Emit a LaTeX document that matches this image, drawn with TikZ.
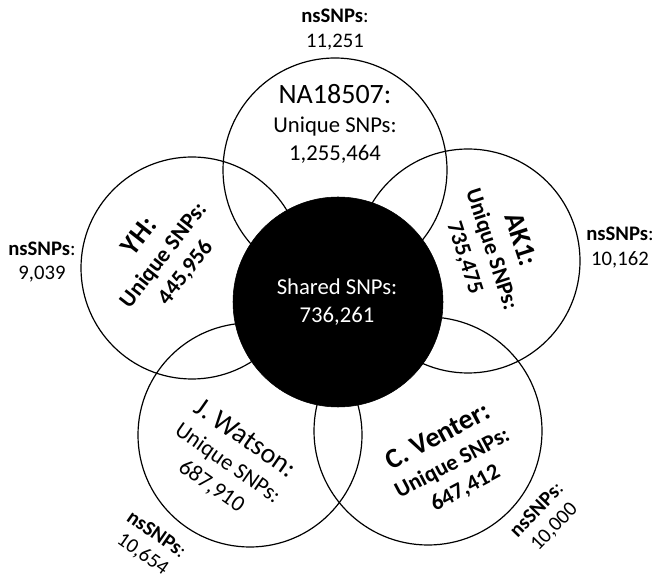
\documentclass[tikz,border=0pt]{standalone}
\usepackage{fontspec}
\setmainfont{Carlito}
\begin{document}
\begin{tikzpicture}[x=0.75pt,y=0.75pt,
  ring/.style={circle, draw=black, line width=0.9pt, minimum size=#1, inner sep=0pt},
  body/.style={font=\fontsize{17}{20}\selectfont, anchor=base, inner sep=0pt},
  ttl/.style={font=\fontsize{21}{24}\selectfont, anchor=base, inner sep=0pt},
  ns/.style={font=\fontsize{15.5}{18}\selectfont, anchor=base, inner sep=0pt}]
\fill[white] (0,0) rectangle (663,585);
\useasboundingbox (0,0) rectangle (663,585);
% outer circles
\node[ring=168pt] (ctop) at (335,415) {};
\node[ring=166.5pt] (cyh) at (192,317) {};
\node[ring=168pt] (cak) at (468,324) {};
\node[ring=168pt] (cjw) at (250,150) {};
\node[ring=171pt] (ccv) at (428,154) {};
% shared centre
\node[circle, fill=black, draw=black, minimum size=157.5pt, inner sep=0pt] (shared) at (338,283) {};
\node[body, text=white] (sh1) at (337,290) {Shared SNPs:};
\node[body, text=white] (sh2) at (337,262) {736,261};
% NA18507
\begin{scope}[shift={(335,459)}]
  \node[ttl] (na1) at (0,22) {NA18507:};
  \node[body] (na2) at (0,-7) {Unique SNPs:};
  \node[body] (na3) at (0,-35) {1,255,464};
\end{scope}
% YH
\begin{scope}[shift={(163,330)}, rotate=52, transform shape]
  \node[ttl, font=\fontsize{21}{24}\selectfont\bfseries] (yh1) at (0,22) {YH:};
  \node[body, font=\fontsize{17}{20}\selectfont\bfseries] (yh2) at (0,-7) {Unique SNPs:};
  \node[body, font=\fontsize{17}{20}\selectfont\bfseries] (yh3) at (0,-35) {445,956};
\end{scope}
% AK1
\begin{scope}[shift={(492,336)}, rotate=-72, transform shape]
  \node[ttl, font=\fontsize{21}{24}\selectfont\bfseries] (ak1) at (0,22) {AK1:};
  \node[body, font=\fontsize{17}{20}\selectfont\bfseries] (ak2) at (0,-7) {Unique SNPs:};
  \node[body, font=\fontsize{17}{20}\selectfont\bfseries] (ak3) at (0,-35) {735,475};
\end{scope}
% J. Watson
\begin{scope}[shift={(228,122)}, rotate=-35, transform shape]
  \node[ttl] (jw1) at (0,22) {J. Watson:};
  \node[body] (jw2) at (0,-7) {Unique SNPs:};
  \node[body] (jw3) at (0,-35) {687,910};
\end{scope}
% C. Venter
\begin{scope}[shift={(452,122)}, rotate=28, transform shape]
  \node[ttl, font=\fontsize{21}{24}\selectfont\bfseries] (cv1) at (0,22) {C. Venter:};
  \node[body, font=\fontsize{17}{20}\selectfont\bfseries] (cv2) at (0,-7) {Unique SNPs:};
  \node[body, font=\fontsize{17}{20}\selectfont\bfseries] (cv3) at (0,-35) {647,412};
\end{scope}
% nsSNPs labels
\node[ns] (nt1) at (335,562) {\textbf{nsSNPs}:};
\node[ns] (nt2) at (335,537) {11,251};
\node[ns] (nl1) at (42,329) {\textbf{nsSNPs}:};
\node[ns] (nl2) at (42,305) {9,039};
\node[ns] (nr1) at (620,344) {\textbf{nsSNPs}:};
\node[ns] (nr2) at (620,319) {10,162};
\begin{scope}[shift={(150,41)}, rotate=-35, transform shape]
  \node[ns] (nb1) at (0,5.5) {\textbf{nsSNPs}:};
  \node[ns] (nb2) at (0,-18.5) {10,654};
\end{scope}
\begin{scope}[shift={(545,67)}, rotate=46, transform shape]
  \node[ns] (nc1) at (0,5.5) {\textbf{nsSNPs}:};
  \node[ns] (nc2) at (0,-18.5) {10,000};
\end{scope}
\end{tikzpicture}
\end{document}
